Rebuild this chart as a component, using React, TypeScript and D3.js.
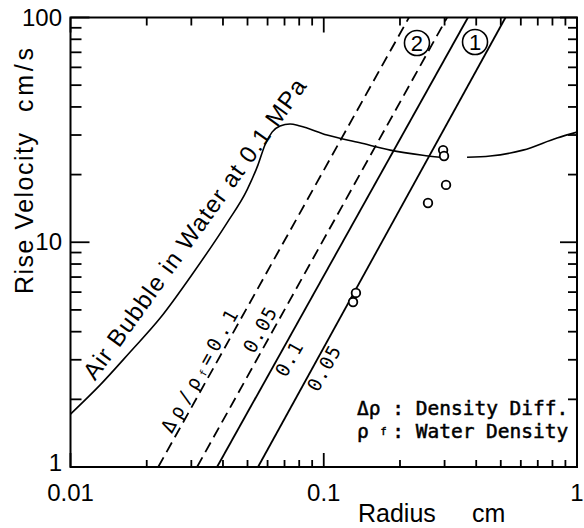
import React from "react"
import * as d3 from "d3"

/** Air bubble in water at 0.1 MPa: radius (cm) and rise velocity (cm/s), curve is broken near the measured points */
const bubbleRadiusA = [0.01, 0.0131, 0.0172, 0.0226, 0.0305, 0.0415, 0.0498, 0.055, 0.0586, 0.0625, 0.0672, 0.0736, 0.0806, 0.103, 0.139, 0.183, 0.246, 0.288]
const bubbleVelocityA = [1.72, 2.32, 3.25, 4.6, 7.3, 12.2, 17.1, 22.1, 27.1, 30.9, 32.9, 33.6, 32.9, 30.0, 27.7, 25.7, 24.4, 23.9]
const bubbleRadiusB = [0.368, 0.454, 0.612, 0.834, 1.0]
const bubbleVelocityB = [23.9, 24.2, 25.7, 29.1, 30.9]

/** Straight lines (log-log): radius at velocity 1 and at velocity 100 */
const lineVelocity = [1, 100]
const model2Ratio01 = [0.0222, 0.217]
const model2Ratio005 = [0.0316, 0.307]
const model1Ratio01 = [0.0379, 0.371]
const model1Ratio005 = [0.055, 0.522]

/** Measured particles */
const measuredRadius = [0.296, 0.2985, 0.304, 0.258, 0.134, 0.1305]
const measuredVelocity = [25.7, 24.2, 18.0, 14.95, 5.95, 5.42]

/** Tick labels */
const xTickValues = [0.01, 0.1, 1]
const xTickLabels = ["0.01", "0.1", "1"]
const yTickValues = [1, 10, 100]
const yTickLabels = ["1", "10", "100"]

const width = 584
const height = 528
const plotLeft = 70.5
const plotRight = 577
const plotTop = 17.5
const plotBottom = 467

const sans = "'Liberation Sans', Arial, sans-serif"
const mono = "'DejaVu Sans Mono', 'Liberation Mono', monospace"

export default function App() {
	const x = d3.scaleLog().domain([0.01, 1]).range([plotLeft, plotRight])
	const y = d3.scaleLog().domain([1, 100]).range([plotBottom, plotTop])

	const curve = d3
		.line<[number, number]>()
		.x(d => x(d[0]))
		.y(d => y(d[1]))
		.curve(d3.curveMonotoneX)
	const straight = d3
		.line<[number, number]>()
		.x(d => x(d[0]))
		.y(d => y(d[1]))

	const bubbleA = curve(bubbleRadiusA.map((r, i) => [r, bubbleVelocityA[i]]))
	const bubbleB = curve(bubbleRadiusB.map((r, i) => [r, bubbleVelocityB[i]]))

	/** log ticks from the scales: 1..9 per decade, decade starts are long */
	const isMajor = (t: number) => Math.abs(Math.log10(t) - Math.round(Math.log10(t))) < 1e-6
	const xTicks = x.ticks()
	const yTicks = y.ticks()

	/** label anchor: point on a line at velocity v, moved by d px along the normal */
	const labelAt = (rr: number[], v: number, d: number) => {
		const x0 = x(rr[0]), y0 = y(lineVelocity[0])
		const x1 = x(rr[1]), y1 = y(lineVelocity[1])
		const ang = Math.atan2(y1 - y0, x1 - x0)
		const t = Math.log10(v) / 2
		const r = rr[0] * Math.pow(rr[1] / rr[0], t)
		const px = x(r) + d * Math.sin(ang)
		const py = y(v) - d * Math.cos(ang)
		return `translate(${px},${py}) rotate(${(ang * 180) / Math.PI})`
	}

	const lines = [
		{ rr: model2Ratio01, dash: "11 6" },
		{ rr: model2Ratio005, dash: "11 6" },
		{ rr: model1Ratio01, dash: null },
		{ rr: model1Ratio005, dash: null },
	]

	/** bubble label runs straight along the rising branch */
	const bx0 = x(0.0125), by0 = y(2.4)
	const bx1 = x(0.0862), by1 = y(49.5)
	const bubbleAngle = (Math.atan2(by1 - by0, bx1 - bx0) * 180) / Math.PI
	const bubbleLen = Math.hypot(bx1 - bx0, by1 - by0)

	const cw = 19.5 * 0.602
	const lx = 357

	return (
		<svg width={width} height={height} style={{ position: "absolute", left: 0, top: 0, background: "#fff" }}>
			<rect width={width} height={height} fill="#fff" />

			{/* frame */}
			<rect x={plotLeft} y={plotTop} width={plotRight - plotLeft} height={plotBottom - plotTop} fill="none" stroke="#000" strokeWidth={2} />

			{/* ticks, pointing inward on all sides */}
			<g stroke="#000" strokeWidth={1.8}>
				{xTicks.map((t, i) => (
					<line key={"xb" + i} x1={x(t)} x2={x(t)} y1={plotBottom} y2={plotBottom - (isMajor(t) ? 14 : 7)} />
				))}
				{xTicks.map((t, i) => (
					<line key={"xt" + i} x1={x(t)} x2={x(t)} y1={plotTop} y2={plotTop + (isMajor(t) ? 15 : 8)} />
				))}
				{yTicks.map((t, i) => (
					<line key={"yl" + i} x1={plotLeft} x2={plotLeft + (isMajor(t) ? 19 : 11)} y1={y(t)} y2={y(t)} />
				))}
				{yTicks.map((t, i) => (
					<line key={"yr" + i} x1={plotRight} x2={plotRight - (isMajor(t) ? 17 : 9)} y1={y(t)} y2={y(t)} />
				))}
			</g>

			{/* tick labels */}
			<g fontFamily={sans} fontSize={24} fill="#000">
				{xTickValues.map((t, i) => (
					<text key={"xl" + i} x={x(t)} y={501} textAnchor="middle">
						{xTickLabels[i]}
					</text>
				))}
				{yTickValues.map((t, i) => (
					<text key={"yl" + i} x={62} y={y(t) + (t === 1 ? 4 : 8)} textAnchor="end">
						{yTickLabels[i]}
					</text>
				))}
			</g>

			{/* axis titles */}
			<g fontFamily={sans} fontSize={25} fill="#000">
				<text x={358} y={522}>Radius</text>
				<text x={472} y={522}>cm</text>
				<text transform="translate(33,294) rotate(-90)" textLength={161} lengthAdjust="spacing">
					Rise Velocity
				</text>
				<text transform="translate(33,112) rotate(-90)" textLength={64} lengthAdjust="spacing">
					cm/s
				</text>
			</g>

			{/* air bubble curve */}
			<g fill="none" stroke="#000" strokeWidth={1.6}>
				{bubbleA && <path d={bubbleA} />}
				{bubbleB && <path d={bubbleB} />}
			</g>
			<text
				transform={`translate(${bx0},${by0}) rotate(${bubbleAngle})`}
				fontFamily={sans}
				fontSize={24}
				textLength={bubbleLen}
				lengthAdjust="spacing"
			>
				Air Bubble in Water at 0.1 MPa
			</text>

			{/* density ratio lines */}
			<g fill="none" stroke="#000" strokeWidth={1.8}>
				{lines.map((l, i) => (
					<path
						key={"l" + i}
						d={straight(l.rr.map((r, j) => [r, lineVelocity[j]] as [number, number])) || ""}
						strokeDasharray={l.dash || undefined}
					/>
				))}
			</g>

			{/* line labels */}
			<g fontFamily={mono} fontSize={19} fill="#000">
				<text transform={labelAt(model2Ratio01, 1.37, 4)} letterSpacing={5}>
					<tspan>Δρ/ρ</tspan>
					<tspan fontSize={10} dy={1}>f</tspan>
					<tspan dy={-1}>=0.1</tspan>
				</text>
				<text transform={labelAt(model2Ratio005, 3.09, 5)} letterSpacing={1}>
					0.05
				</text>
				<text transform={labelAt(model1Ratio01, 2.7, -17)} letterSpacing={1}>
					0.1
				</text>
				<text transform={labelAt(model1Ratio005, 2.32, -17)} letterSpacing={1}>
					0.05
				</text>
			</g>

			{/* circled model numbers */}
			<g fontFamily={sans} fontSize={22}>
				<circle cx={x(0.2334)} cy={y(77)} r={12.5} fill="#fff" stroke="#000" strokeWidth={1.6} />
				<text x={x(0.2334)} y={y(77) + 8} textAnchor="middle">2</text>
				<circle cx={x(0.3957)} cy={y(77.8)} r={12.5} fill="#fff" stroke="#000" strokeWidth={1.6} />
				<text x={x(0.3957)} y={y(77.8) + 8} textAnchor="middle">1</text>
			</g>

			{/* measured points */}
			<g fill="#fff" stroke="#000" strokeWidth={1.8}>
				{measuredRadius.map((r, i) => (
					<circle key={"m" + i} cx={x(r)} cy={y(measuredVelocity[i])} r={4.3} />
				))}
			</g>

			{/* legend */}
			<g fontFamily={mono} fontSize={19.5} fill="#000" stroke="#000" strokeWidth={0.5}>
				<text x={lx} y={415}>Δρ : Density Diff.</text>
				<text x={lx} y={438}>
					<tspan>ρ</tspan>
					<tspan x={lx + 2 * cw} fontSize={10} dy={-3}>f</tspan>
					<tspan x={lx + 3 * cw} dy={3}>: Water Density</tspan>
				</text>
			</g>
		</svg>
	)
}
